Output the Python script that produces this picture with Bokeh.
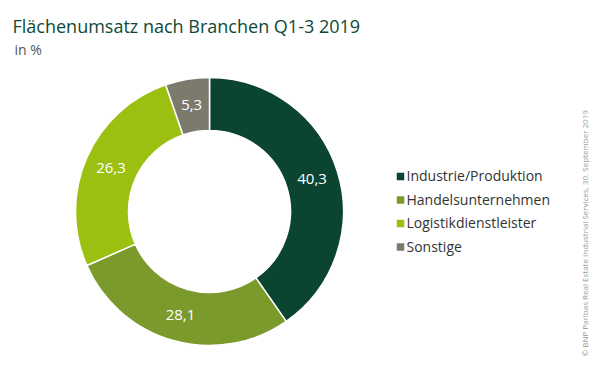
import math
from bokeh.plotting import figure
from bokeh.models import Range1d, Label, ColumnDataSource
from bokeh.core.properties import value
from bokeh.embed import file_html
from bokeh.resources import INLINE

# ---- data ----
categories = ["Industrie/Produktion", "Handelsunternehmen", "Logistikdienstleister", "Sonstige"]
values = [40.3, 28.1, 26.3, 5.3]
labels = ["40,3", "28,1", "26,3", "5,3"]
colors = ["#0b4532", "#7a9a2c", "#9bc012", "#7c796d"]

title_text = "Flächenumsatz nach Branchen Q1-3 2019"
subtitle_text = "in %"
source_text = "© BNP Paribas Real Estate Industrial Services, 30. September 2019"

W, H = 600, 381
FONT = "Open Sans"

p = figure(width=W, height=H, output_backend="svg", toolbar_location=None,
           x_range=Range1d(0, W), y_range=Range1d(0, H), min_border=0,
           outline_line_color=None, background_fill_color="white")
p.axis.visible = False
p.xgrid.visible = False
p.ygrid.visible = False

def px(x):
    return x

def py(y):
    return H - y

cx, cy = px(209), py(211)
r_out, r_in = 134, 81

total = sum(values)
starts, ends, lx, ly = [], [], [], []
cum = 0.0
for v in values:
    a0 = math.pi / 2 - 2 * math.pi * cum / total
    a1 = math.pi / 2 - 2 * math.pi * (cum + v) / total
    starts.append(a0)
    ends.append(a1)
    mid = (a0 + a1) / 2
    rm = (r_out + r_in) / 2
    lx.append(cx + rm * math.cos(mid))
    ly.append(cy + rm * math.sin(mid))
    cum += v

src = ColumnDataSource(dict(cat=categories, val=values, lab=labels, color=colors,
                            start=starts, end=ends, lx=lx, ly=ly))

p.annular_wedge(x=cx, y=cy, inner_radius=r_in, outer_radius=r_out,
                inner_radius_units="screen", outer_radius_units="screen",
                start_angle="start", end_angle="end", direction="clock",
                fill_color="color", line_color="white", line_width=1.5, source=src)

p.text(x="lx", y="ly", text="lab", source=src, text_color="white",
       text_font=value(FONT), text_font_size="15px",
       text_align="center", text_baseline="middle")

# legend
leg_x = px(400)
leg_y0 = py(176)
step = 23.5
leg_src = ColumnDataSource(dict(
    x=[leg_x] * len(categories),
    y=[leg_y0 - i * step for i in range(len(categories))],
    tx=[leg_x + 6] * len(categories),
    cat=categories, color=colors))
p.scatter(x="x", y="y", marker="square", size=7.5, fill_color="color",
          line_color=None, source=leg_src)
p.text(x="tx", y="y", text="cat", source=leg_src, text_color="#333333",
       text_font=value(FONT), text_font_size="14px",
       text_align="left", text_baseline="middle", y_offset=-1)

# title / subtitle
p.add_layout(Label(x=px(12), y=py(25), text=title_text, text_font=FONT,
                   text_font_size="18px", text_color="#0d4a34",
                   text_baseline="alphabetic", text_align="left"))
p.add_layout(Label(x=px(14), y=py(49), text=subtitle_text, text_font=FONT,
                   text_font_size="14px", text_color="#555555",
                   text_baseline="alphabetic", text_align="left"))

# source (vertical)
p.add_layout(Label(x=px(584), y=py(356), text=source_text, text_font=FONT,
                   text_font_size="8px", text_color="#9a9a9a", angle=math.pi / 2,
                   text_baseline="middle", text_align="left"))

open("out.html", "w").write(file_html(p, INLINE))
